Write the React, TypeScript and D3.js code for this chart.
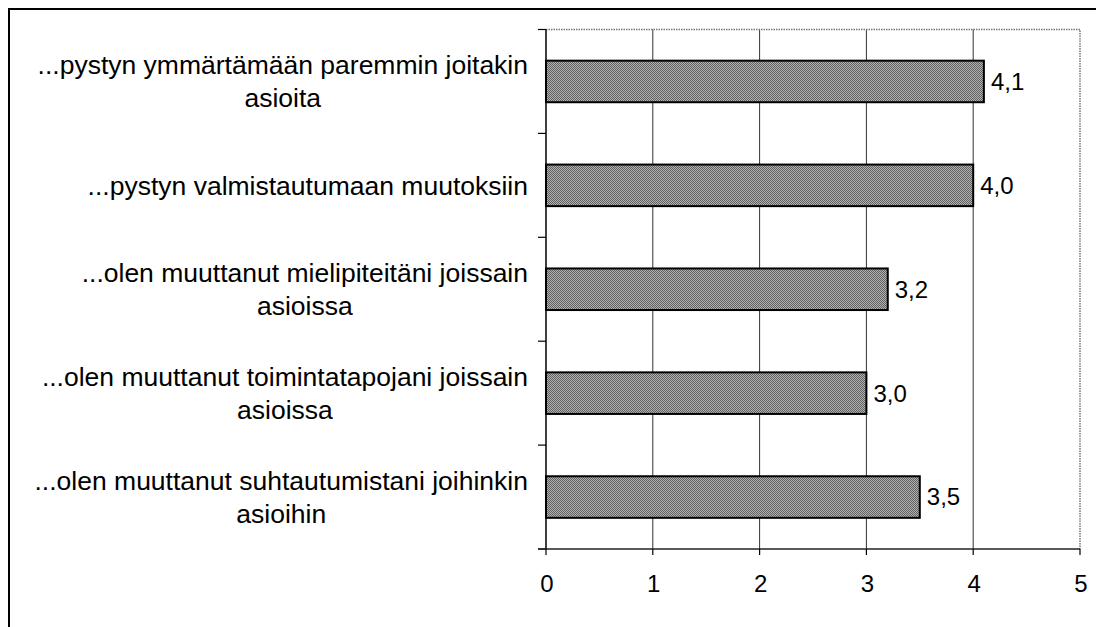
import React, { useEffect, useRef } from "react";
import * as d3 from "d3";

const categories = [
  "...pystyn ymmärtämään paremmin joitakin\nasioita",
  "...pystyn valmistautumaan muutoksiin",
  "...olen muuttanut mielipiteitäni joissain\nasioissa",
  "...olen muuttanut toimintatapojani joissain\nasioissa",
  "...olen muuttanut suhtautumistani joihinkin\nasioihin",
];
const values = [4.1, 4.0, 3.2, 3.0, 3.5];
const xTicks = [0, 1, 2, 3, 4, 5];

const W = 1096;
const H = 627;
const PLOT = { left: 546, right: 1080, top: 29.5, bottom: 549 };
const FONT = "'Liberation Sans', Arial, sans-serif";

export default function App() {
  const ref = useRef<SVGSVGElement>(null);

  useEffect(() => {
    const svg = d3.select(ref.current);
    svg.selectAll("*").remove();

    const x = d3.scaleLinear().domain([0, 5]).range([PLOT.left, PLOT.right]);
    const y = d3
      .scaleBand<string>()
      .domain(categories)
      .range([PLOT.top, PLOT.bottom])
      .paddingInner(0.6)
      .paddingOuter(0.3);
    const step = y.step();
    const bw = y.bandwidth();

    const defs = svg.append("defs");
    const pat = defs
      .append("pattern")
      .attr("id", "dither")
      .attr("patternUnits", "userSpaceOnUse")
      .attr("width", 2)
      .attr("height", 2);
    pat.append("rect").attr("width", 2).attr("height", 2).attr("fill", "#b0b0b0");
    pat.append("rect").attr("width", 1).attr("height", 1).attr("fill", "#626262");
    pat.append("rect").attr("x", 1).attr("y", 1).attr("width", 1).attr("height", 1).attr("fill", "#626262");

    svg.append("rect").attr("width", W).attr("height", H).attr("fill", "#fff");

    // outer frame
    svg
      .append("rect")
      .attr("x", 9)
      .attr("y", 9)
      .attr("width", W + 40)
      .attr("height", H + 40)
      .attr("fill", "none")
      .attr("stroke", "#000")
      .attr("stroke-width", 2);

    // gridlines
    svg
      .append("g")
      .selectAll("line")
      .data(xTicks.filter((t) => t > 0 && t < 5))
      .join("line")
      .attr("x1", (d) => x(d))
      .attr("x2", (d) => x(d))
      .attr("y1", PLOT.top)
      .attr("y2", PLOT.bottom)
      .attr("stroke", "#333")
      .attr("stroke-width", 1);

    // dotted top & right border
    svg
      .append("path")
      .attr("d", `M${PLOT.left},${PLOT.top}H${PLOT.right}V${PLOT.bottom}`)
      .attr("fill", "none")
      .attr("stroke", "#777")
      .attr("stroke-width", 1.5)
      .attr("stroke-dasharray", "1.5,1");

    // bars
    svg
      .append("g")
      .selectAll("rect")
      .data(categories)
      .join("rect")
      .attr("x", x(0))
      .attr("y", (d) => y(d)!)
      .attr("width", (d, i) => x(values[i]) - x(0))
      .attr("height", bw)
      .attr("fill", "url(#dither)")
      .attr("stroke", "#000")
      .attr("stroke-width", 2);

    // left axis
    svg
      .append("line")
      .attr("x1", PLOT.left)
      .attr("x2", PLOT.left)
      .attr("y1", PLOT.top)
      .attr("y2", PLOT.bottom)
      .attr("stroke", "#000")
      .attr("stroke-width", 1.5);
    const bounds = categories.map((c) => y(c)! - step * 0.3).concat([PLOT.bottom]);
    svg
      .append("g")
      .selectAll("line")
      .data(bounds)
      .join("line")
      .attr("x1", PLOT.left - 8)
      .attr("x2", PLOT.left)
      .attr("y1", (d) => d)
      .attr("y2", (d) => d)
      .attr("stroke", "#000")
      .attr("stroke-width", 1.2);

    // bottom axis
    svg
      .append("line")
      .attr("x1", PLOT.left - 8)
      .attr("x2", PLOT.right)
      .attr("y1", PLOT.bottom)
      .attr("y2", PLOT.bottom)
      .attr("stroke", "#222")
      .attr("stroke-width", 1.5);
    svg
      .append("g")
      .selectAll("line")
      .data(xTicks)
      .join("line")
      .attr("x1", (d) => x(d))
      .attr("x2", (d) => x(d))
      .attr("y1", PLOT.bottom)
      .attr("y2", PLOT.bottom + 6)
      .attr("stroke", "#000")
      .attr("stroke-width", 1.2);

    // tick labels
    svg
      .append("g")
      .selectAll("text")
      .data(xTicks)
      .join("text")
      .attr("x", (d) => x(d) + 1)
      .attr("y", 584)
      .attr("dy", "0.35em")
      .attr("text-anchor", "middle")
      .attr("font-family", FONT)
      .attr("font-size", 24)
      .attr("fill", "#000")
      .text((d) => String(d));

    // value labels
    const fmt = (v: number) => d3.format(".1f")(v).replace(".", ",");
    svg
      .append("g")
      .selectAll("text")
      .data(categories)
      .join("text")
      .attr("x", (d, i) => x(values[i]) + 7)
      .attr("y", (d) => y(d)! + bw / 2)
      .attr("dy", "0.35em")
      .attr("font-family", FONT)
      .attr("font-size", 24)
      .attr("fill", "#000")
      .text((d, i) => fmt(values[i]));

    // category labels
    const labelRight = 528;
    const lineH = 33;
    categories.forEach((c) => {
      const lines = c.split("\n");
      const cy = y(c)! + bw / 2;
      const g = svg.append("g");
      const texts = lines.map((ln, j) =>
        g
          .append("text")
          .attr("y", cy + (j - (lines.length - 1) / 2) * lineH)
          .attr("dy", "0.35em")
          .attr("text-anchor", "middle")
          .attr("font-family", FONT)
          .attr("font-size", 26.5)
          .attr("fill", "#000")
          .text(ln)
      );
      const maxW = d3.max(texts, (t) => (t.node() as SVGTextElement).getComputedTextLength()) || 0;
      texts.forEach((t) => t.attr("x", labelRight - maxW / 2));
    });
  }, []);

  return (
    <svg
      ref={ref}
      width={W}
      height={H}
      style={{ position: "absolute", left: 0, top: 0, display: "block" }}
    />
  );
}
